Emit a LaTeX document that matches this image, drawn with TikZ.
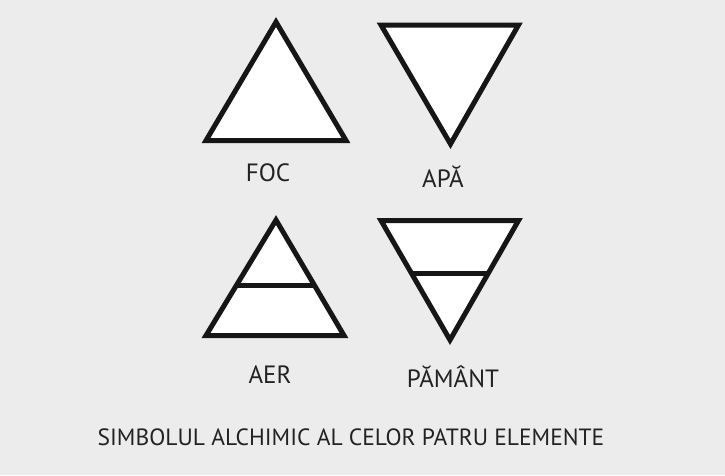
\documentclass[tikz,border=0pt]{standalone}
\usepackage{fontspec}
\setmainfont{PT Sans}
\usetikzlibrary{positioning,calc}
\definecolor{fundal}{RGB}{236,236,236}
\definecolor{contur}{RGB}{22,22,22}
\definecolor{textgri}{RGB}{34,34,34}

\begin{document}
\begin{tikzpicture}[x=1pt, y=-1pt,
    simbol/.style={draw=contur, fill=white, line width=5pt, line join=miter},
    bara/.style={draw=contur, line width=5pt},
    eticheta/.style={text=textgri, font=\fontsize{25}{28}\selectfont},
    titlu/.style={text=textgri, font=\fontsize{23.5}{26}\selectfont}]
  \fill[fundal] (0,0) rectangle (725,475);
  % foc
  \coordinate (focV) at (276,22);
  \coordinate (focS) at (206,140.5);
  \coordinate (focD) at (346,140.5);
  \draw[simbol] (focV) -- (focS) -- (focD) -- cycle;
  % apa
  \coordinate (apaS) at (381,25);
  \coordinate (apaD) at (518.5,25);
  \coordinate (apaV) at (450.5,144);
  \draw[simbol] (apaS) -- (apaD) -- (apaV) -- cycle;
  % aer
  \coordinate (aerV) at (276,220);
  \coordinate (aerS) at (206,335.5);
  \coordinate (aerD) at (344,335.5);
  \draw[simbol] (aerV) -- (aerS) -- (aerD) -- cycle;
  \draw[bara] ($(aerV)!0.563!(aerS)$) -- ($(aerV)!0.563!(aerD)$);
  % pamant
  \coordinate (pamS) at (381,220.5);
  \coordinate (pamD) at (518.5,220.5);
  \coordinate (pamV) at (450,340);
  \draw[simbol] (pamS) -- (pamD) -- (pamV) -- cycle;
  \draw[bara] ($(pamV)!0.56!(pamS)$) -- ($(pamV)!0.56!(pamD)$);
  % etichete
  \node[eticheta] (foc) at (268,173) {FOC};
  \node[eticheta] (apa) at (443,177) {APĂ};
  \node[eticheta] (aer) at (270,375) {AER};
  \node[eticheta] (pamant) at (453,377) {PĂMÂNT};
  \node[titlu] (titlu) at (351,437) {SIMBOLUL ALCHIMIC AL CELOR PATRU ELEMENTE};
\end{tikzpicture}
\end{document}
